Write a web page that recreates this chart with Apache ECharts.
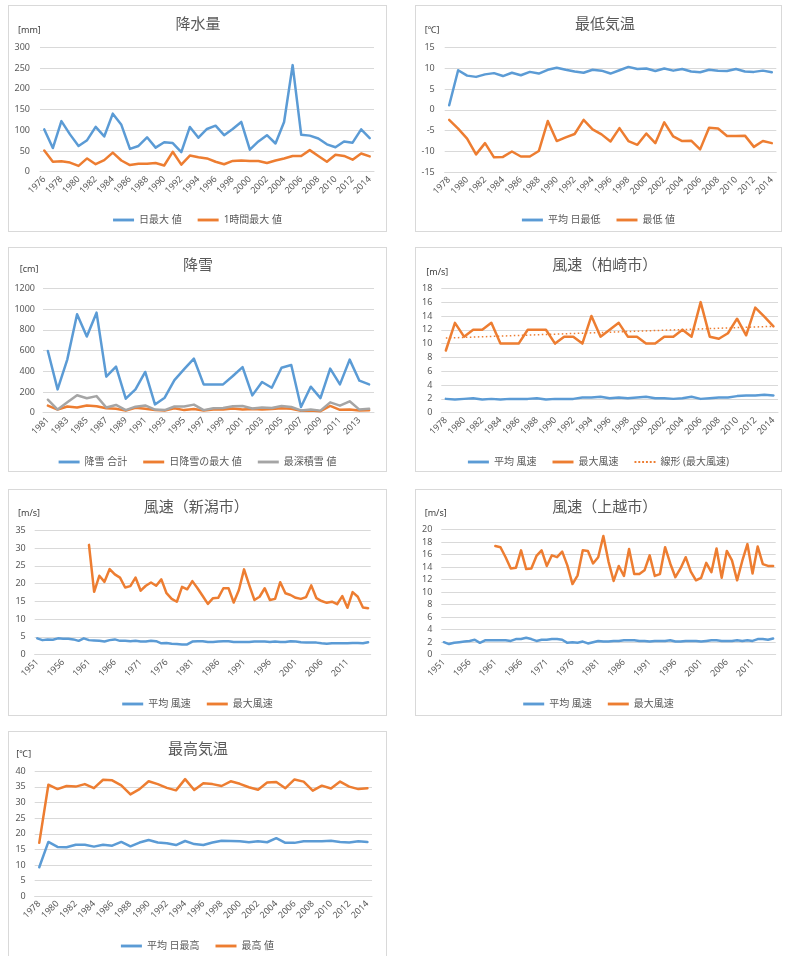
<!DOCTYPE html>
<html><head><meta charset="utf-8">
<script src="https://cdn.jsdelivr.net/npm/echarts@6/dist/echarts.min.js"></script>
<style>
html,body{margin:0;padding:0;background:#fff;width:785px;height:956px;overflow:hidden;position:relative}
.panel{position:absolute;box-sizing:border-box;border:1px solid #d9d9d9;background:#fff}
</style></head><body>
<div class="panel" id="p1" style="left:8px;top:5px;width:379px;height:227px"></div>
<div class="panel" id="p2" style="left:415px;top:5px;width:367px;height:227px"></div>
<div class="panel" id="p3" style="left:8px;top:247px;width:379px;height:225px"></div>
<div class="panel" id="p4" style="left:415px;top:247px;width:367px;height:225px"></div>
<div class="panel" id="p5" style="left:8px;top:489px;width:379px;height:227px"></div>
<div class="panel" id="p6" style="left:415px;top:489px;width:367px;height:227px"></div>
<div class="panel" id="p7" style="left:8px;top:731px;width:379px;height:230px"></div>
<script>
// ---------- categories ----------
const years1976 = ['1976','1977','1978','1979','1980','1981','1982','1983','1984','1985','1986','1987','1988','1989','1990','1991','1992','1993','1994','1995','1996','1997','1998','1999','2000','2001','2002','2003','2004','2005','2006','2007','2008','2009','2010','2011','2012','2013','2014'];
const years1978 = ['1978','1979','1980','1981','1982','1983','1984','1985','1986','1987','1988','1989','1990','1991','1992','1993','1994','1995','1996','1997','1998','1999','2000','2001','2002','2003','2004','2005','2006','2007','2008','2009','2010','2011','2012','2013','2014'];
const years1981 = ['1981','1982','1983','1984','1985','1986','1987','1988','1989','1990','1991','1992','1993','1994','1995','1996','1997','1998','1999','2000','2001','2002','2003','2004','2005','2006','2007','2008','2009','2010','2011','2012','2013','2014'];
const years1951 = ['1951','1952','1953','1954','1955','1956','1957','1958','1959','1960','1961','1962','1963','1964','1965','1966','1967','1968','1969','1970','1971','1972','1973','1974','1975','1976','1977','1978','1979','1980','1981','1982','1983','1984','1985','1986','1987','1988','1989','1990','1991','1992','1993','1994','1995','1996','1997','1998','1999','2000','2001','2002','2003','2004','2005','2006','2007','2008','2009','2010','2011','2012','2013','2014','2015'];

// ---------- 降水量 (1976-2014) ----------
const precipDailyMax = [102,57,122,90,62,76,108,85,140,113,55,62,83,58,71,69,47,108,82,103,111,88,103,120,53,73,88,68,120,257,89,87,80,66,59,73,70,102,81];
const precipHourlyMax = [51,24,25,22,14,32,18,28,46,27,16,19,19,21,15,48,17,39,35,32,24,18,26,27,26,26,21,27,32,38,38,52,38,24,41,38,29,44,37];

// ---------- 最低気温 (1978-2014) ----------
const minTempAvg = [1.1,9.5,8.2,7.9,8.5,8.8,8.1,8.9,8.3,9.1,8.7,9.6,10.1,9.6,9.2,8.9,9.6,9.4,8.7,9.5,10.3,9.8,9.9,9.3,9.9,9.4,9.8,9.2,9.0,9.6,9.4,9.3,9.8,9.2,9.1,9.4,9.0];
const minTempMin = [-2.4,-4.5,-6.9,-10.7,-8.0,-11.4,-11.3,-10.0,-11.2,-11.2,-9.9,-2.7,-7.5,-6.6,-5.8,-2.4,-4.7,-5.9,-7.6,-4.4,-7.5,-8.4,-5.7,-8.0,-3.0,-6.4,-7.5,-7.4,-9.5,-4.3,-4.5,-6.3,-6.3,-6.2,-8.9,-7.5,-8.0];

// ---------- 降雪 (1981-2014) ----------
const snowTotal = [595,225,515,950,735,965,348,444,135,225,393,80,145,315,420,521,273,273,273,354,440,167,296,241,434,460,55,251,141,425,273,512,309,273];
const snowDailyMax = [68,30,60,50,70,62,42,38,20,48,38,25,20,42,25,35,22,32,30,40,30,35,32,35,42,38,18,20,15,65,28,30,22,24];
const snowDepthMax = [125,30,100,168,140,160,50,75,25,58,70,30,25,60,60,78,25,42,45,62,65,40,50,45,65,55,22,30,20,100,68,110,30,38];

// ---------- 風速（柏崎市） (1978-2014) ----------
const kashiAvg = [2.0,1.9,2.0,2.1,1.9,2.0,1.9,2.0,2.0,2.0,2.1,1.9,2.0,2.0,2.0,2.2,2.2,2.3,2.1,2.2,2.1,2.2,2.3,2.1,2.1,2.0,2.1,2.3,2.0,2.1,2.2,2.2,2.4,2.5,2.5,2.6,2.5];
const kashiMax = [9,13,11,12,12,13,10,10,10,12,12,12,10,11,11,10,14,11,12,13,11,11,10,10,11,11,12,11,16,11,10.7,11.5,13.6,11.2,15.2,13.9,12.5];
const kashiTrendEnds = [10.8, 12.5];

// ---------- 風速（新潟市） (1951-2015; max from 1961) ----------
const niigataAvg = [4.6,4.1,4.3,4.2,4.6,4.5,4.5,4.3,3.9,4.6,4.1,4.0,3.9,3.7,4.1,4.3,3.9,3.9,3.8,3.9,3.7,3.7,3.9,3.8,3.2,3.3,3.1,3.0,2.9,2.9,3.7,3.8,3.8,3.6,3.6,3.7,3.8,3.8,3.6,3.6,3.6,3.6,3.7,3.7,3.7,3.6,3.7,3.6,3.6,3.8,3.7,3.5,3.4,3.4,3.4,3.2,3.1,3.2,3.2,3.2,3.2,3.3,3.3,3.2,3.5];
const niigataMax = [null,null,null,null,null,null,null,null,null,null,30.9,17.7,22.2,20.5,24.1,22.6,21.7,18.9,19.3,21.7,18.0,19.4,20.3,19.4,21.2,17.3,15.7,14.9,19.1,18.4,20.7,18.7,16.5,14.3,15.9,16.0,18.7,18.7,14.7,18.2,24.0,19.6,15.4,16.3,18.7,15.4,15.7,20.4,17.3,16.8,16.0,15.7,16.2,19.5,15.9,15.1,14.6,14.9,14.2,16.5,13.2,17.6,16.3,13.3,13.1];

// ---------- 風速（上越市） (1951-2015; max from 1961) ----------
const joetsuAvg = [2.0,1.7,1.9,2.0,2.1,2.2,2.4,1.9,2.3,2.3,2.3,2.3,2.3,2.2,2.5,2.5,2.7,2.5,2.2,2.4,2.4,2.5,2.5,2.4,1.9,2.0,1.9,2.1,1.8,2.0,2.2,2.1,2.1,2.2,2.2,2.3,2.3,2.3,2.2,2.2,2.1,2.2,2.2,2.2,2.3,2.1,2.1,2.2,2.2,2.2,2.1,2.2,2.3,2.3,2.2,2.2,2.2,2.3,2.2,2.3,2.2,2.5,2.5,2.4,2.6];
const joetsuMax = [null,null,null,null,null,null,null,null,null,null,17.4,17.2,15.6,13.8,13.9,16.7,13.7,13.8,15.8,16.7,14.2,15.9,15.6,16.5,14.3,11.3,12.7,16.7,16.6,14.6,15.6,19.0,14.9,11.8,14.2,12.6,16.9,12.9,12.9,13.5,15.9,12.6,12.9,17.2,14.6,12.4,13.8,15.6,13.3,11.9,12.3,14.7,13.2,17.0,12.3,16.6,15.1,11.9,15.0,17.7,13.0,17.3,14.5,14.2,14.2];

// ---------- 最高気温 (1978-2014) ----------
const maxTempAvg = [9.3,17.4,15.8,15.7,16.5,16.5,15.9,16.5,16.2,17.4,16.0,17.2,18.0,17.2,17.0,16.4,17.7,16.7,16.4,17.2,17.8,17.7,17.6,17.3,17.6,17.3,18.6,17.1,17.1,17.6,17.6,17.6,17.8,17.4,17.2,17.6,17.4];
const maxTempMax = [17.1,35.7,34.3,35.3,35.1,35.9,34.6,37.3,37.1,35.5,32.6,34.3,36.8,35.9,34.7,33.9,37.5,34.0,36.2,35.9,35.3,36.8,36.0,34.9,34.1,36.4,36.6,34.6,37.4,36.7,33.8,35.4,34.5,36.7,35.1,34.3,34.6];

// ---------- rendering ----------
const FONT = '"Noto Sans", "Noto Sans CJK JP", sans-serif';
const BLUE = '#5B9BD5', ORANGE = '#ED7D31', GRAY = '#A5A5A5';
const GRIDC = '#d9d9d9', TXT = '#595959';
const SOLID_ICON = 'path://M0,0H22V3H0Z';
const DOT_ICON = 'path://M0,0H2V2H0Z M4,0H6V2H4Z M8,0H10V2H8Z M12,0H14V2H12Z M16,0H18V2H16Z M20,0H22V2H20Z';

function lineSeries(name, data, color, extra) {
  return Object.assign({
    name: name, type: 'line', data: data, symbol: 'none', smooth: false,
    lineStyle: { color: color, width: 2.5, cap: 'round', join: 'round' },
    itemStyle: { color: color },
    emphasis: { disabled: true }
  }, extra || {});
}

function makeChart(id, c) {
  const chart = echarts.init(document.getElementById(id), null, { renderer: 'canvas' });
  chart.setOption({
    animation: false,
    textStyle: { fontFamily: FONT },
    graphic: [
      { type: 'text', x: c.titleX, y: c.titleY, style: { text: c.title, fill: TXT, fontSize: 15, fontFamily: FONT, align: 'center', verticalAlign: 'middle' } },
      { type: 'text', x: c.unitX, y: c.unitY, style: { text: c.unit, fill: '#404040', fontSize: 9, fontFamily: FONT, align: 'left', verticalAlign: 'middle' } }
    ],
    legend: {
      left: 'center', top: c.legendTop || 204, itemWidth: 21, itemHeight: 3, itemGap: c.legendGap || 16,
      textStyle: { fontSize: 10, color: TXT, fontFamily: FONT },
      data: c.series.map(s => ({ name: s.name, icon: s.dotted ? DOT_ICON : SOLID_ICON }))
    },
    grid: Object.assign({ containLabel: false, outerBoundsMode: 'none' }, c.grid),
    xAxis: {
      type: 'category', data: c.cats, boundaryGap: true,
      axisTick: { show: false },
      axisLine: { show: true, onZero: false, lineStyle: { color: GRIDC, width: 1 } },
      axisLabel: { rotate: 45, interval: c.labelInterval, fontSize: 9, color: TXT, margin: 6, fontFamily: FONT }
    },
    yAxis: {
      type: 'value', min: c.yMin, max: c.yMax, interval: c.yInterval,
      axisLine: { show: false }, axisTick: { show: false },
      splitLine: { lineStyle: { color: GRIDC, width: 1 } },
      axisLabel: { fontSize: 9, color: TXT, margin: c.yMargin || 9, fontFamily: FONT, formatter: v => String(v) }
    },
    series: c.series
  });
}

makeChart('p1', {
  title: '降水量', titleX: 189, titleY: 19, unit: '[mm]', unitX: 9, unitY: 24,
  grid: { left: 31, top: 41.3, width: 334, height: 124.4 },
  cats: years1976, labelInterval: 1, yMin: 0, yMax: 300, yInterval: 50, yMargin: 10,
  series: [lineSeries('日最大 値', precipDailyMax, BLUE), lineSeries('1時間最大 値', precipHourlyMax, ORANGE)]
});

makeChart('p2', {
  title: '最低気温', titleX: 189, titleY: 18.3, unit: '[℃]', unitX: 8.7, unitY: 24,
  grid: { left: 28.7, top: 41.3, width: 331.6, height: 125 },
  cats: years1978, labelInterval: 1, yMin: -15, yMax: 15, yInterval: 5, yMargin: 10,
  series: [lineSeries('平均 日最低', minTempAvg, BLUE), lineSeries('最低 値', minTempMin, ORANGE)]
});

makeChart('p3', {
  title: '降雪', titleX: 189, titleY: 18, unit: '[cm]', unitX: 10.7, unitY: 21,
  grid: { left: 34, top: 40.3, width: 331, height: 124.4 },
  cats: years1981, labelInterval: 1, yMin: 0, yMax: 1200, yInterval: 200, yMargin: 8,
  series: [lineSeries('降雪 合計', snowTotal, BLUE), lineSeries('日降雪の最大 値', snowDailyMax, ORANGE), lineSeries('最深積雪 値', snowDepthMax, GRAY)]
});

const kashiTrend = years1978.map((y, i) => i === 0 ? kashiTrendEnds[0] : (i === years1978.length - 1 ? kashiTrendEnds[1] : null));
makeChart('p4', {
  title: '風速（柏崎市）', titleX: 188.7, titleY: 18, unit: '[m/s]', unitX: 10.3, unitY: 24.7,
  grid: { left: 25.3, top: 40.3, width: 336.7, height: 124.4 },
  cats: years1978, labelInterval: 1, yMin: 0, yMax: 18, yInterval: 2, yMargin: 9,
  series: [
    lineSeries('平均 風速', kashiAvg, BLUE),
    lineSeries('最大風速', kashiMax, ORANGE),
    lineSeries('線形 (最大風速)', kashiTrend, ORANGE, { dotted: true, connectNulls: true, lineStyle: { color: ORANGE, width: 1.5, type: [1.5, 2.5], cap: 'butt' } })
  ]
});

makeChart('p5', {
  title: '風速（新潟市）', titleX: 187.3, titleY: 17.7, unit: '[m/s]', unitX: 9, unitY: 23.7,
  grid: { left: 25.7, top: 40.3, width: 336, height: 124.4 },
  cats: years1951, labelInterval: 4, yMin: 0, yMax: 35, yInterval: 5, yMargin: 9,
  series: [lineSeries('平均 風速', niigataAvg, BLUE), lineSeries('最大風速', niigataMax, ORANGE)]
});

makeChart('p6', {
  title: '風速（上越市）', titleX: 188.7, titleY: 17.7, unit: '[m/s]', unitX: 8.7, unitY: 23.7,
  grid: { left: 25.3, top: 39.7, width: 334.4, height: 125 },
  cats: years1951, labelInterval: 4, yMin: 0, yMax: 20, yInterval: 2, yMargin: 9,
  series: [lineSeries('平均 風速', joetsuAvg, BLUE), lineSeries('最大風速', joetsuMax, ORANGE)]
});

makeChart('p7', {
  title: '最高気温', titleX: 189, titleY: 17.7, unit: '[℃]', unitX: 7.3, unitY: 22.7,
  grid: { left: 25.7, top: 39.3, width: 337.3, height: 125 },
  cats: years1978, labelInterval: 1, yMin: 0, yMax: 40, yInterval: 5, yMargin: 9,
  series: [lineSeries('平均 日最高', maxTempAvg, BLUE), lineSeries('最高 値', maxTempMax, ORANGE)]
});
</script>
</body></html>
